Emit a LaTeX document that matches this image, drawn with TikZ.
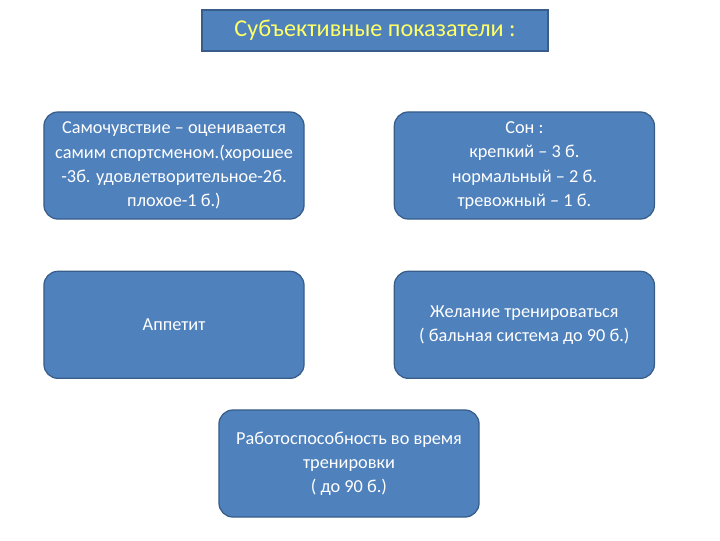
\documentclass[tikz,border=0pt]{standalone}
\usepackage{fontspec}
\setmainfont{Carlito}
\usepackage{xcolor}
\usetikzlibrary{positioning}

\definecolor{boxfill}{HTML}{4F81BD}
\definecolor{boxedge}{HTML}{385D8A}
\definecolor{titletext}{HTML}{FFFF66}

\begin{document}
\begin{tikzpicture}[
    x=0.025cm, y=-0.025cm,
    card/.style={rectangle, rounded corners=0.35cm, draw=boxedge, line width=0.9pt, fill=boxfill, text=white,
        minimum width=6.5cm, minimum height=2.675cm, align=center, font=\fontsize{13}{17.2}\selectfont},
    header/.style={rectangle, draw=boxedge, line width=0.9pt, fill=boxfill, text=titletext,
        minimum width=8.65cm, minimum height=1.025cm, font=\fontsize{17.2}{20}\selectfont}
]
\useasboundingbox (0,0) rectangle (720,540);

\node[header] (title) at (375,30.5) {Субъективные показатели :};

\node[card] (mood) at (174,165.5) {Самочувствие -- оценивается\\самим спортсменом.(хорошее\\-3б. удовлетворительное-2б.\\плохое-1 б.)};
\node[card, right=2.225cm of mood] (sleep) {Сон :\\крепкий -- 3 б.\\нормальный -- 2 б.\\тревожный -- 1 б.};
\node[card, below=1.275cm of mood] (appetite) {Аппетит};
\node[card, below=1.275cm of sleep] (wish) {Желание тренироваться\\( бальная система до 90 б.)};
\node[card] (work) at (349,463.5) {Работоспособность во время\\тренировки\\( до 90 б.)};
\end{tikzpicture}
\end{document}
